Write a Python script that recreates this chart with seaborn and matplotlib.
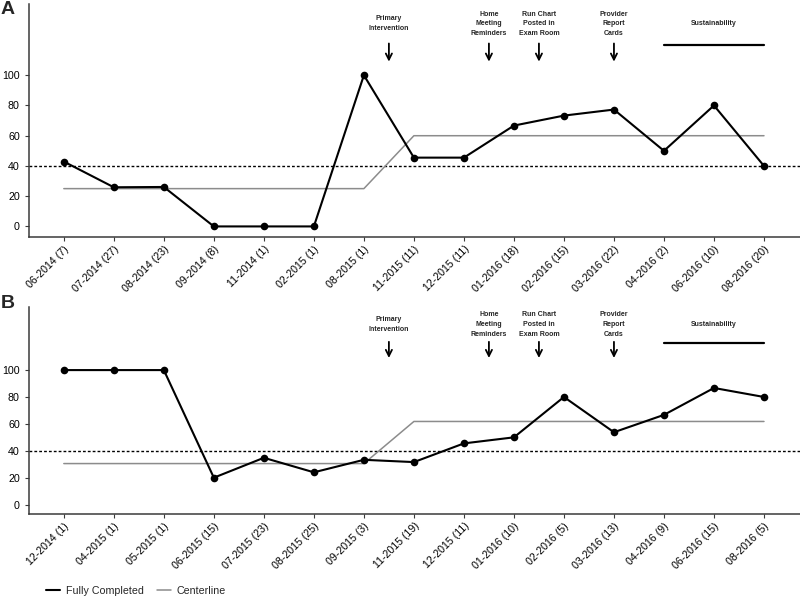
import matplotlib
matplotlib.use("Agg")
import matplotlib.pyplot as plt
import seaborn as sns
import numpy as np
import pandas as pd
from matplotlib.lines import Line2D

# ---- data ----
labels_a = ["06-2014 (7)", "07-2014 (27)", "08-2014 (23)", "09-2014 (8)", "11-2014 (1)",
            "02-2015 (1)", "08-2015 (1)", "11-2015 (11)", "12-2015 (11)", "01-2016 (18)",
            "02-2016 (15)", "03-2016 (22)", "04-2016 (2)", "06-2016 (10)", "08-2016 (20)"]
completed_a = [42.9, 25.9, 26.1, 0, 0, 0, 100, 45.5, 45.5, 66.7, 73.3, 77.3, 50, 80, 40]
center_a = [25, 25, 25, 25, 25, 25, 25, 60, 60, 60, 60, 60, 60, 60, 60]

labels_b = ["12-2014 (1)", "04-2015 (1)", "05-2015 (1)", "06-2015 (15)", "07-2015 (23)",
            "08-2015 (25)", "09-2015 (3)", "11-2015 (19)", "12-2015 (11)", "01-2016 (10)",
            "02-2016 (5)", "03-2016 (13)", "04-2016 (9)", "06-2016 (15)", "08-2016 (5)"]
completed_b = [100, 100, 100, 20, 34.8, 24, 33.3, 31.6, 45.5, 50, 80, 53.8, 66.7, 86.7, 80]
center_b = [30.5, 30.5, 30.5, 30.5, 30.5, 30.5, 30.5, 61.8, 61.8, 61.8, 61.8, 61.8, 61.8, 61.8, 61.8]

goal = 40
y_ticks = [0, 20, 40, 60, 80, 100]

events = ["Primary\nIntervention", "Home\nMeeting\nReminders", "Run Chart\nPosted in\nExam Room",
          "Provider\nReport\nCards"]
event_pos = [6.5, 8.5, 9.5, 11.0]
sustain_label = "Sustainability"
sustain_range = [12, 14]

# ---- style ----
sns.set_style("ticks")
plt.rcParams['font.family'] = ['Liberation Sans', 'DejaVu Sans']
plt.rcParams['axes.edgecolor'] = '#3a3a3a'
plt.rcParams['xtick.color'] = '#3a3a3a'
plt.rcParams['ytick.color'] = '#3a3a3a'

fig = plt.figure(figsize=(8, 5.97), dpi=100)
ax_a = fig.add_axes([0.036, 0.603, 0.964, 0.390])
ax_b = fig.add_axes([0.036, 0.139, 0.964, 0.347])

def draw(ax, labels, comp, cent):
    df = pd.DataFrame({"idx": np.arange(len(labels)), "comp": comp, "cent": cent})
    sns.lineplot(data=df, x="idx", y="cent", color="#8c8c8c", linewidth=1.1, ax=ax, zorder=2)
    sns.lineplot(data=df, x="idx", y="comp", color="black", linewidth=1.5, marker="o",
                 markersize=5.5, markeredgecolor="black", markeredgewidth=0, ax=ax, zorder=3)
    ax.axhline(goal, color="black", linewidth=1.0, linestyle=(0, (2, 1.5)), zorder=1)
    ax.set_xlim(-0.7, len(labels) - 1 + 0.72)
    ax.set_ylim(-7, 147)
    ax.set_yticks(y_ticks)
    ax.set_xticks(np.arange(len(labels)))
    ax.set_xticklabels(labels, rotation=45, ha="right", rotation_mode="anchor", fontsize=7.7,
                       color="black")
    ax.tick_params(axis="y", labelsize=7.7, labelcolor="black", length=3)
    ax.tick_params(axis="x", length=3, pad=2)
    ax.set_xlabel("")
    ax.set_ylabel("")
    for s in ["top", "right"]:
        ax.spines[s].set_visible(False)
    for s in ["left", "bottom"]:
        ax.spines[s].set_linewidth(1.1)
    for txt, xp in zip(events, event_pos):
        ax.text(xp, 134, txt, ha="center", va="center", fontsize=5, fontweight="bold",
                linespacing=1.55)
        ax.annotate("", xy=(xp, 109), xytext=(xp, 121),
                    arrowprops=dict(arrowstyle="->", color="black", lw=1.3,
                                    shrinkA=0, shrinkB=0, mutation_scale=11))
    ax.text(np.mean(sustain_range), 134, sustain_label, ha="center", va="center",
            fontsize=5, fontweight="bold")
    ax.plot(sustain_range, [120, 120], color="black", linewidth=1.6)

draw(ax_a, labels_a, completed_a, center_a)
draw(ax_b, labels_b, completed_b, center_b)

fig.text(0.001, 0.998, "A", fontsize=14, fontweight="bold", va="top", ha="left")
fig.text(0.001, 0.506, "B", fontsize=14, fontweight="bold", va="top", ha="left")

handles = [Line2D([0], [0], color="black", lw=1.5), Line2D([0], [0], color="#8c8c8c", lw=1.1)]
fig.legend(handles, ["Fully Completed", "Centerline"], loc="center left",
           bbox_to_anchor=(0.045, 0.01), ncol=2, frameon=False, fontsize=7.7,
           handlelength=1.3, handletextpad=0.6, columnspacing=1.2)

fig.savefig("out.png", dpi=100)
